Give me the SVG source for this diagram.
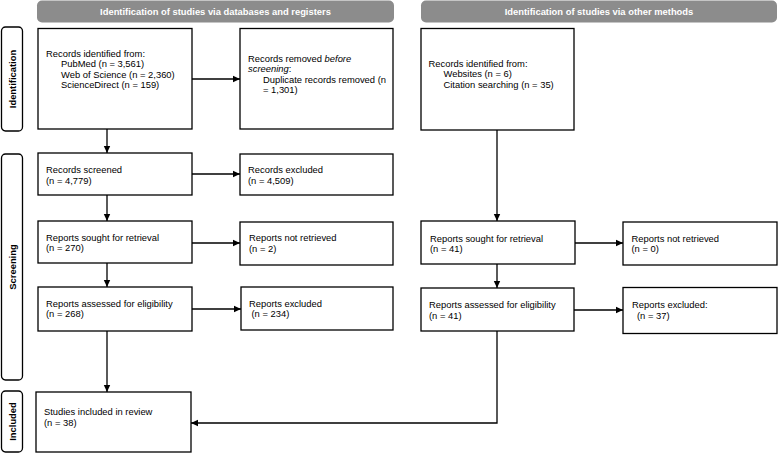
<svg xmlns="http://www.w3.org/2000/svg" width="778" height="454" viewBox="0 0 778 454">
<defs>
<marker id="ah" markerUnits="userSpaceOnUse" markerWidth="8" markerHeight="8" viewBox="0 0 8 8" refX="7" refY="4" orient="auto">
<path d="M0,0.8 L7,4 L0,7.2 Z" fill="#000"/>
</marker>
<style>
.box{fill:#fff;stroke:#000;stroke-width:1.3}
.hdr{fill:#8c8c8c}
.side{fill:#fff;stroke:#000;stroke-width:1.3}
.t{font-family:"Liberation Sans",Arial,sans-serif;font-size:9.4px;fill:#000}
.ht{font-family:"Liberation Sans",Arial,sans-serif;font-size:9.4px;font-weight:bold;fill:#fff;text-anchor:middle}
.st{font-family:"Liberation Sans",Arial,sans-serif;font-size:9.4px;font-weight:bold;fill:#000;text-anchor:middle}
.c{fill:none;stroke:#000;stroke-width:1.3;marker-end:url(#ah)}
</style>
</defs>
<rect width="778" height="454" fill="#fff"/>
<g id="header-db"><rect class="hdr" x="37" y="0.5" width="357" height="22" rx="5"/><text class="ht" x="215.5" y="15">Identification of studies via databases and registers</text></g>
<g id="header-other"><rect class="hdr" x="421" y="0.5" width="356" height="22" rx="5"/><text class="ht" x="599" y="15">Identification of studies via other methods</text></g>
<g id="side-identification"><rect class="side" x="1.5" y="27" width="21" height="104" rx="4"/><text class="st" transform="translate(15.5,79) rotate(-90)">Identification</text></g>
<g id="side-screening"><rect class="side" x="1.5" y="154" width="21" height="226" rx="4"/><text class="st" transform="translate(15.5,267) rotate(-90)">Screening</text></g>
<g id="side-included"><rect class="side" x="1.5" y="391" width="21" height="61" rx="4"/><text class="st" transform="translate(15.5,421.5) rotate(-90)">Included</text></g>

<g id="db-identified"><rect class="box" x="38" y="28.5" width="154" height="100.5"/>
<text class="t" x="46" y="56.5">Records identified from:</text>
<text class="t" x="61" y="67">PubMed (n = 3,561)</text>
<text class="t" x="61" y="77.5">Web of Science (n = 2,360)</text>
<text class="t" x="61" y="88">ScienceDirect (n = 159)</text></g>
<g id="db-removed"><rect class="box" x="240" y="28.5" width="153" height="100.5"/>
<text class="t" x="248" y="61.5">Records removed <tspan font-style="italic">before</tspan></text>
<text class="t" x="248" y="72"><tspan font-style="italic">screening</tspan>:</text>
<text class="t" x="263" y="82.6">Duplicate records removed (n</text>
<text class="t" x="263" y="93.2">= 1,301)</text></g>
<g id="db-screened"><rect class="box" x="38" y="153" width="154" height="42"/>
<text class="t" x="46" y="173">Records screened</text><text class="t" x="46" y="183.5">(n = 4,779)</text></g>
<g id="db-excluded"><rect class="box" x="240" y="154" width="153" height="41"/>
<text class="t" x="248" y="173">Records excluded</text><text class="t" x="248" y="183.5">(n = 4,509)</text></g>
<g id="db-sought"><rect class="box" x="38" y="221" width="154" height="42"/>
<text class="t" x="46" y="240.5">Reports sought for retrieval</text><text class="t" x="46" y="251">(n = 270)</text></g>
<g id="db-notretrieved"><rect class="box" x="240" y="222" width="153" height="43"/>
<text class="t" x="249" y="241">Reports not retrieved</text><text class="t" x="249" y="251.5">(n = 2)</text></g>
<g id="db-assessed"><rect class="box" x="38" y="287" width="154" height="44"/>
<text class="t" x="46" y="306.5">Reports assessed for eligibility</text><text class="t" x="46" y="317">(n = 268)</text></g>
<g id="db-reportsexcluded"><rect class="box" x="241" y="287" width="152" height="43"/>
<text class="t" x="249" y="306.5">Reports excluded</text><text class="t" x="251.5" y="317">(n = 234)</text></g>
<g id="included"><rect class="box" x="36" y="392" width="155" height="60"/>
<text class="t" x="44" y="415">Studies included in review</text><text class="t" x="44" y="425.5">(n = 38)</text></g>

<g id="oth-identified"><rect class="box" x="421" y="28.5" width="153" height="101.5"/>
<text class="t" x="428.5" y="66.5">Records identified from:</text>
<text class="t" x="443.5" y="77">Websites (n = 6)</text>
<text class="t" x="443.5" y="87.5">Citation searching (n = 35)</text></g>
<g id="oth-sought"><rect class="box" x="421" y="221" width="154" height="43"/>
<text class="t" x="430" y="241.5">Reports sought for retrieval</text><text class="t" x="430" y="252">(n = 41)</text></g>
<g id="oth-notretrieved"><rect class="box" x="623" y="222" width="154" height="43"/>
<text class="t" x="631.5" y="241.5">Reports not retrieved</text><text class="t" x="631.5" y="252">(n = 0)</text></g>
<g id="oth-assessed"><rect class="box" x="421" y="288" width="153" height="43"/>
<text class="t" x="429" y="308">Reports assessed for eligibility</text><text class="t" x="429" y="318.5">(n = 41)</text></g>
<g id="oth-excluded"><rect class="box" x="623" y="287.5" width="154" height="46"/>
<text class="t" x="632" y="308">Reports excluded:</text><text class="t" x="637" y="318.5">(n = 37)</text></g>

<g id="connectors">
<path class="c" d="M192,79 H240"/>
<path class="c" d="M107,129 V153"/>
<path class="c" d="M192,174 H240"/>
<path class="c" d="M107,195 V221"/>
<path class="c" d="M192,243 H240"/>
<path class="c" d="M107,263 V287"/>
<path class="c" d="M192,309 H241"/>
<path class="c" d="M107,331 V392"/>
<path class="c" d="M497,130 V221"/>
<path class="c" d="M575,243 H623"/>
<path class="c" d="M497,264 V288"/>
<path class="c" d="M574,310 H623"/>
<path class="c" d="M497,331 V423 H191"/>
</g>
</svg>
